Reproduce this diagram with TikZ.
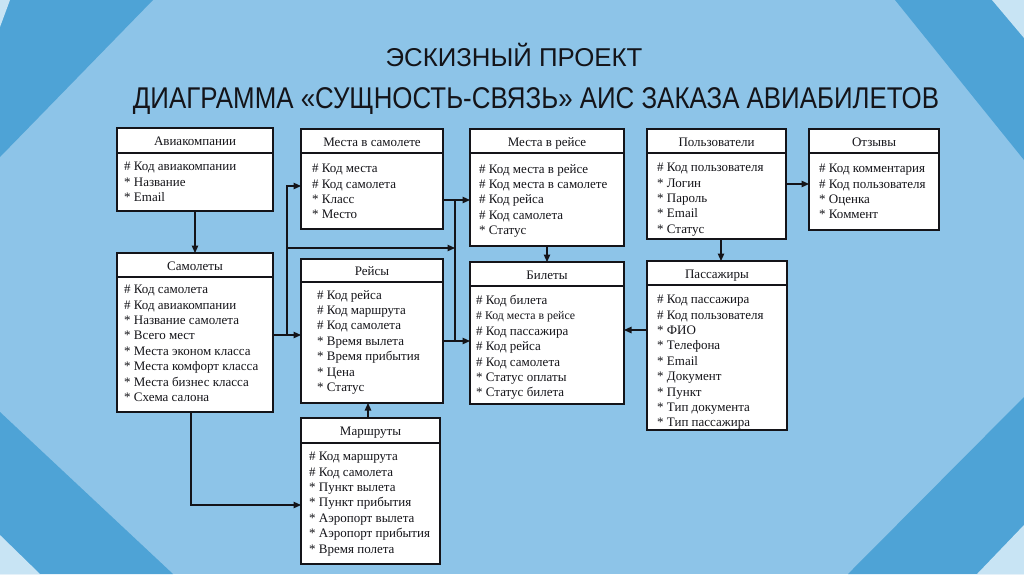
\documentclass[tikz,border=0pt]{standalone}
\usepackage{fontspec}
\usepackage{graphicx}
\setmainfont{Liberation Serif}
\newfontfamily\titlefont{Liberation Sans}
\usetikzlibrary{arrows.meta}
\definecolor{bgl}{RGB}{141,196,232}
\definecolor{bgd}{RGB}{78,163,214}
\definecolor{bgv}{RGB}{200,228,244}
\definecolor{ink}{RGB}{20,20,25}
\tikzset{
  ent/.style={draw=ink, line width=1.1pt, fill=white, inner sep=0pt, outer sep=0pt, anchor=north west},
  hdrline/.style={draw=ink, line width=1.1pt},
  ttl/.style={font=\fontsize{13}{15}\selectfont, text=ink, inner sep=0pt, text height=8.8pt, text depth=3pt, anchor=center, yshift=-2.5pt},
  rows/.style={font=\fontsize{13}{15.4}\selectfont, text=ink, align=left, anchor=north west, inner sep=0pt},
  conn/.style={draw=ink, line width=1.2pt},
  arr/.style={conn, -{Triangle[length=7.5pt,width=6.5pt]}},
  bigtitle/.style={font=\titlefont, text=ink, inner sep=0pt},
}
% #1 name, #2 x1, #3 y1, #4 x2, #5 header y, #6 y2, #7 title, #8 rows, #9 text offset
\newcommand\entity[9]{%
  \node[ent, minimum width={#4pt-#2pt}, minimum height={#6pt-#3pt}] (#1) at (#2,#3) {};
  \draw[hdrline] (#2,#5) -- (#4,#5);
  \node[ttl] (#1-t) at ({(#2+#4)/2},{(#3+#5)/2}) {#7};
  \node[rows, shift={(#9)}] (#1-r) at (#2,#5) {#8};
}
\begin{document}
\begin{tikzpicture}[x=1pt,y=-1pt]
\useasboundingbox (0,0) rectangle (1024,574);
% background
\fill[bgl] (0,0) rectangle (1024,574);
\fill[bgd] (0,0) -- (153,0) -- (0,157) -- cycle;
\fill[bgv] (0,0) -- (10,0) -- (0,27) -- cycle;
\fill[bgd] (895,0) -- (1024,0) -- (1024,160) -- cycle;
\fill[bgv] (992,0) -- (1024,0) -- (1024,38) -- cycle;
\fill[bgd] (0,412) -- (173,574) -- (0,574) -- cycle;
\fill[bgv] (0,535) -- (40,574) -- (0,574) -- cycle;
\fill[bgd] (1024,397) -- (848,574) -- (1024,574) -- cycle;
\fill[bgv] (1024,525) -- (977,574) -- (1024,574) -- cycle;
% titles
\node[bigtitle, font=\titlefont\fontsize{25.8}{30}\selectfont] (t1) at (514,55) {ЭСКИЗНЫЙ ПРОЕКТ};
\node[bigtitle, font=\titlefont\fontsize{30}{34}\selectfont] (t2) at (536,101) {\scalebox{0.863}[1]{ДИАГРАММА «СУЩНОСТЬ-СВЯЗЬ» АИС ЗАКАЗА АВИАБИЛЕТОВ}};
% entities
\entity{av}{117}{128}{273}{153}{211}{Авиакомпании}{\# Код авиакомпании\\* Название\\* Email}{7,9}
\entity{ms}{301}{129}{443}{153}{229}{Места в самолете}{\# Код места\\\# Код самолета\\* Класс\\* Место}{11,11}
\entity{mr}{470}{129}{624}{153}{246}{Места в рейсе}{\# Код места в рейсе\\\# Код места в самолете\\\# Код рейса\\\# Код самолета\\* Статус}{9,11}
\entity{us}{647}{129}{786}{153}{239}{Пользователи}{\# Код пользователя\\* Логин\\* Пароль\\* Email\\* Статус}{10,10}
\entity{ot}{809}{129}{939}{153}{230}{Отзывы}{\# Код комментария\\\# Код пользователя\\* Оценка\\* Коммент}{10,11}
\entity{sa}{117}{253}{273}{277}{412}{Самолеты}{\# Код самолета\\\# Код авиакомпании\\* Название самолета\\* Всего мест\\* Места эконом класса\\* Места комфорт класса\\* Места бизнес класса\\* Схема салона}{7,8}
\entity{re}{301}{259}{443}{282}{403}{Рейсы}{\# Код рейса\\\# Код маршрута\\\# Код самолета\\* Время вылета\\* Время прибытия\\* Цена\\* Статус}{16,8}
\entity{bi}{470}{262}{624}{286}{404}{Билеты}{\# Код билета\\{\fontsize{11.8}{15.4}\selectfont\# Код места в рейсе}\\\# Код пассажира\\\# Код рейса\\\# Код самолета\\* Статус оплаты\\* Статус билета}{6,9}
\entity{pa}{647}{261}{787}{285}{430}{Пассажиры}{\# Код пассажира\\\# Код пользователя\\* ФИО\\* Телефона\\* Email\\* Документ\\* Пункт\\* Тип документа\\* Тип пассажира}{10,10}
\entity{ma}{301}{418}{440}{443}{564}{Маршруты}{\# Код маршрута\\\# Код самолета\\* Пункт вылета\\* Пункт прибытия\\* Аэропорт вылета\\* Аэропорт прибытия\\* Время полета}{8,9}
% junction coordinates
\coordinate (j1) at (287,335);
\coordinate (j2) at (287,186);
\coordinate (j3) at (287,248);
\coordinate (k1) at (455,200);
\coordinate (k2) at (455,341);
\coordinate (k3) at (455,248);
\coordinate (k4) at (798,184);
\coordinate (k5) at (636,330);
\coordinate (j4) at (191,505);
\coordinate (c1) at (721,250);
\coordinate (c2) at (368,410);
% connectors
\draw[arr] (av.south) -- (sa.north);
\draw[arr] (sa.east |- j1) -- (re.west |- j1);
\draw[arr] (j1) -- (j2) -- (ms.west |- j2);
\draw[arr] (j3) -- (k3);
\draw[arr] (ms.east |- k1) -- (mr.west |- k1);
\draw[conn] (k1) -- (k2);
\draw[arr] (re.east |- k2) -- (bi.west |- k2);
\draw[arr] (mr.south) -- (mr.south |- bi.north);
\draw[arr] (us.south -| c1) -- (pa.north -| c1);
\draw[arr] (us.east |- k4) -- (ot.west |- k4);
\draw[arr] (pa.west |- k5) -- (bi.east |- k5);
\draw[arr] (ma.north -| c2) -- (re.south -| c2);
\draw[arr] (sa.south -| j4) -- (j4) -- (ma.west |- j4);
\end{tikzpicture}
\end{document}
